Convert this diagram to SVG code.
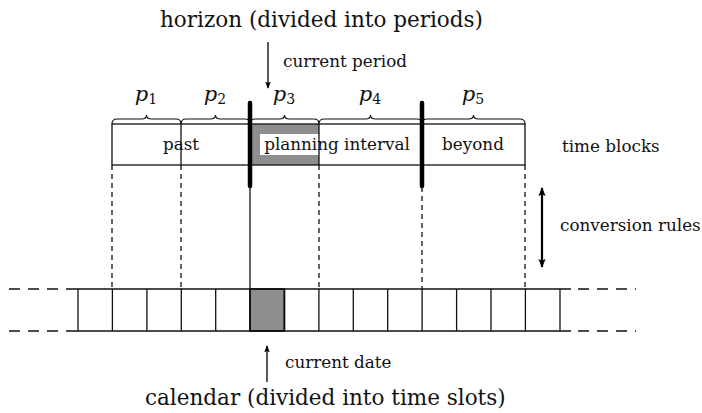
<svg xmlns="http://www.w3.org/2000/svg" width="702" height="413" viewBox="0 0 702 413">
<style>
text{font-family:"DejaVu Serif","Liberation Serif",serif;fill:#111}
.t{font-size:21.5px}
.s{font-size:16.8px}
.p{font-size:21px;font-style:italic}
.sub{font-size:14px;font-style:normal}
.ln{stroke:#111;stroke-width:1.3;fill:none}
.dash{stroke:#111;stroke-width:1.3;stroke-dasharray:5 4;fill:none}
.hd{stroke:#111;stroke-width:1.3;stroke-dasharray:11 8;fill:none}
.thick{stroke:#000;stroke-width:4.5;stroke-linecap:round}
.br{stroke:#111;stroke-width:1.1;fill:none}
.gray{fill:#8e8e8e}
.arr{stroke:#000;stroke-width:1.3;fill:none}
.arrT{stroke:#000;stroke-width:2.2;fill:none}
</style>
<defs>
<marker id="ah" viewBox="0 0 10 10" refX="9" refY="5" markerWidth="7" markerHeight="7" markerUnits="userSpaceOnUse" orient="auto">
<path d="M0,1 L10,5 L0,9 L2,5 Z" fill="#000"/>
</marker>
<marker id="ah2" viewBox="0 0 10 10" refX="9" refY="5" markerWidth="9" markerHeight="9" markerUnits="userSpaceOnUse" orient="auto-start-reverse">
<path d="M0,1 L10,5 L0,9 L2,5 Z" fill="#000"/>
</marker>
</defs>

<g id="horizon-title"><text class="t" x="160" y="27">horizon (divided into periods)</text></g>

<g id="current-period"><text class="s" x="283" y="67">current period</text></g>

<g id="periods">
<text class="p" x="146" y="101" text-anchor="middle">p<tspan class="sub" dy="3">1</tspan></text>
<text class="p" x="215" y="101" text-anchor="middle">p<tspan class="sub" dy="3">2</tspan></text>
<text class="p" x="284" y="101" text-anchor="middle">p<tspan class="sub" dy="3">3</tspan></text>
<text class="p" x="370" y="101" text-anchor="middle">p<tspan class="sub" dy="3">4</tspan></text>
<text class="p" x="473" y="101" text-anchor="middle">p<tspan class="sub" dy="3">5</tspan></text>
<path class="br" d="M112,124 Q112,119 117,119 L141.5,119 Q146.5,119 146.5,115 Q146.5,119 151.5,119 L176,119 Q181,119 181,124"/>
<path class="br" d="M181,124 Q181,119 186,119 L210.5,119 Q215.5,119 215.5,115 Q215.5,119 220.5,119 L245,119 Q250,119 250,124"/>
<path class="br" d="M250,124 Q250,119 255,119 L279.5,119 Q284.5,119 284.5,115 Q284.5,119 289.5,119 L314,119 Q319,119 319,124"/>
<path class="br" d="M319,124 Q319,119 324,119 L365.5,119 Q370.5,119 370.5,115 Q370.5,119 375.5,119 L417,119 Q422,119 422,124"/>
<path class="br" d="M422,124 Q422,119 427,119 L468.5,119 Q473.5,119 473.5,115 Q473.5,119 478.5,119 L520,119 Q525,119 525,124"/>
</g>

<g id="time-blocks">
<rect class="gray" x="250" y="124" width="69" height="41"/>
<rect x="260" y="134" width="156" height="21" fill="#fff"/>
<rect class="ln" x="112" y="124" width="413" height="41"/>
<line class="ln" x1="181" y1="124" x2="181" y2="165"/>
<line class="ln" x1="319" y1="124" x2="319" y2="165"/>
<text class="s" x="181" y="150" text-anchor="middle">past</text>
<text class="s" x="337" y="150" text-anchor="middle">planning interval</text>
<text class="s" x="473" y="150" text-anchor="middle">beyond</text>
</g>

<g id="time-blocks-label"><text class="s" x="562" y="152">time blocks</text></g>
<g id="conversion-rules-label"><text class="s" x="560" y="231">conversion rules</text></g>

<g id="calendar">
<rect class="gray" x="250" y="289" width="34.4" height="42"/>
<line class="ln" x1="67" y1="289" x2="571" y2="289"/>
<line class="ln" x1="67" y1="331" x2="571" y2="331"/>
<path class="hd" d="M9,289 H67 M9,331 H67 M578,289 H636 M578,331 H636"/>
<path class="ln" d="M78,289V331 M112.4,289V331 M146.9,289V331 M181.3,289V331 M215.7,289V331 M250,289V331 M284.4,289V331 M318.9,289V331 M353.3,289V331 M387.7,289V331 M422.1,289V331 M456.6,289V331 M491,289V331 M525.4,289V331 M560,289V331"/>
<rect x="250" y="289" width="34.4" height="42" fill="none" stroke="#111" stroke-width="1.8"/>
</g>

<g id="current-date"><text class="s" x="285" y="368">current date</text></g>
<g id="calendar-title"><text class="t" x="145" y="405">calendar (divided into time slots)</text></g>

<g id="connectors">
<path class="dash" d="M112,165V289 M181,165V289 M319,165V289 M525,165V289 M422,187V289"/>
<line class="ln" x1="250" y1="187" x2="250" y2="289"/>
<line class="thick" x1="250" y1="103" x2="250" y2="186"/>
<line class="thick" x1="422" y1="103" x2="422" y2="186"/>
<line class="arr" x1="268" y1="42" x2="268" y2="88" marker-end="url(#ah)"/>
<line class="arr" x1="267" y1="382" x2="267" y2="346" marker-end="url(#ah)"/>
<line class="arrT" x1="542" y1="188" x2="542" y2="267" marker-start="url(#ah2)" marker-end="url(#ah2)"/>
</g>
</svg>
